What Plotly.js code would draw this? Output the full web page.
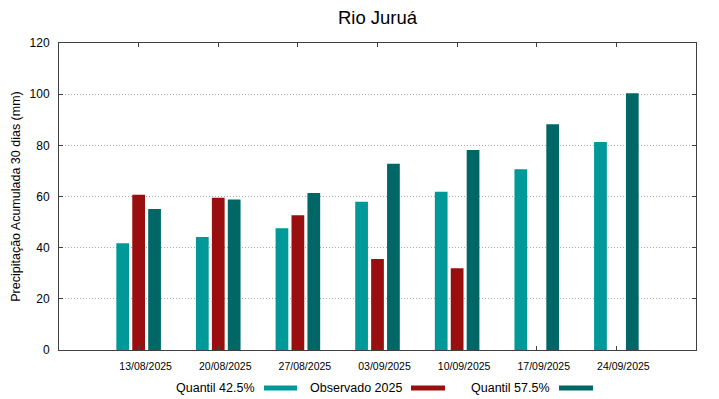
<!DOCTYPE html>
<html>
<head>
<meta charset="utf-8">
<script src="https://cdn.plot.ly/plotly-3.0.1.min.js"></script>
<style>html,body{margin:0;padding:0;background:#fff}#chart{width:719px;height:399px}</style>
</head>
<body>
<div id="chart"></div>
<script>
var categories = ["13/08/2025","20/08/2025","27/08/2025","03/09/2025","10/09/2025","17/09/2025","24/09/2025"];
var seriesNames = ["Quantil 42.5%", "Observado 2025", "Quantil 57.5%"];
var quantil425 = [41.7, 44.2, 47.6, 57.9, 61.9, 70.7, 81.3];
var observado2025 = [60.7, 59.5, 52.7, 35.6, 32.0, null, null];
var quantil575 = [55.1, 58.8, 61.4, 72.8, 78.2, 88.2, 100.4];
var colors = ["#009999", "#990e0e", "#006666"];

var values = [quantil425, observado2025, quantil575];
var traces = values.map(function (v, i) {
  return {
    type: "bar",
    x: categories,
    y: v,
    name: seriesNames[i],
    marker: {color: colors[i], line: {width: 0}},
    showlegend: false,
    hoverinfo: "x+y+name"
  };
});

// legend drawn gnuplot-style: text followed by a colour sample
var legText = [
  {x: 257, s0: 264, s1: 297},
  {x: 404, s0: 411, s1: 445},
  {x: 552, s0: 559, s1: 593}
];
var W = 719, H = 399, ml = 59, mr = 23, mt = 43, mb = 49;
var pw = W - ml - mr, ph = H - mt - mb;
function px2x(p) { return (p - ml) / pw; }
function py2y(p) { return (H - mb - p) / ph; }
var annotations = [], shapes = [];
seriesNames.forEach(function (n, i) {
  annotations.push({
    xref: "paper", yref: "paper", x: px2x(legText[i].x), y: py2y(388),
    xanchor: "right", yanchor: "middle", text: n, showarrow: false,
    font: {size: 12.5, color: "#000"}
  });
  shapes.push({
    type: "rect", xref: "paper", yref: "paper",
    x0: px2x(legText[i].s0), x1: px2x(legText[i].s1),
    y0: py2y(390.5), y1: py2y(385.5),
    fillcolor: colors[i], line: {width: 0}
  });
});

var layout = {
  width: W, height: H,
  margin: {l: ml, r: mr, t: mt, b: mb, pad: 0},
  paper_bgcolor: "#fff", plot_bgcolor: "#fff",
  font: {family: "Liberation Sans, Arial, sans-serif", color: "#000"},
  title: {text: "Rio Juruá", font: {size: 18.5, color: "#000"}, x: 0.5, xanchor: "center", y: 0.957, yanchor: "middle", xref: "paper"},
  barmode: "group", bargap: 0.4, bargroupgap: 0.2,
  showlegend: false,
  xaxis: {
    type: "category", range: [-1, 7],
    showline: true, linecolor: "#404040", linewidth: 1, mirror: "ticks",
    ticks: "inside", ticklen: 4, tickcolor: "#404040",
    showgrid: false, zeroline: false,
    tickfont: {size: 10.5, color: "#000"},
    ticklabelshift: 7, ticklabelstandoff: 6
  },
  yaxis: {
    range: [0, 120], dtick: 20, tick0: 0,
    showline: true, linecolor: "#404040", linewidth: 1, mirror: "ticks",
    ticks: "inside", ticklen: 4, tickcolor: "#404040",
    showgrid: true, gridcolor: "#aaaaaa", griddash: "1px,2px", gridwidth: 1,
    zeroline: false,
    tickfont: {size: 12, color: "#000"},
    ticklabelstandoff: 6,
    title: {text: "Precipitação Acumulada 30 dias (mm)", font: {size: 12.5, color: "#000"}, standoff: 6}
  },
  annotations: annotations,
  shapes: shapes
};

Plotly.newPlot("chart", traces, layout, {displayModeBar: false, staticPlot: true});
</script>
</body>
</html>
